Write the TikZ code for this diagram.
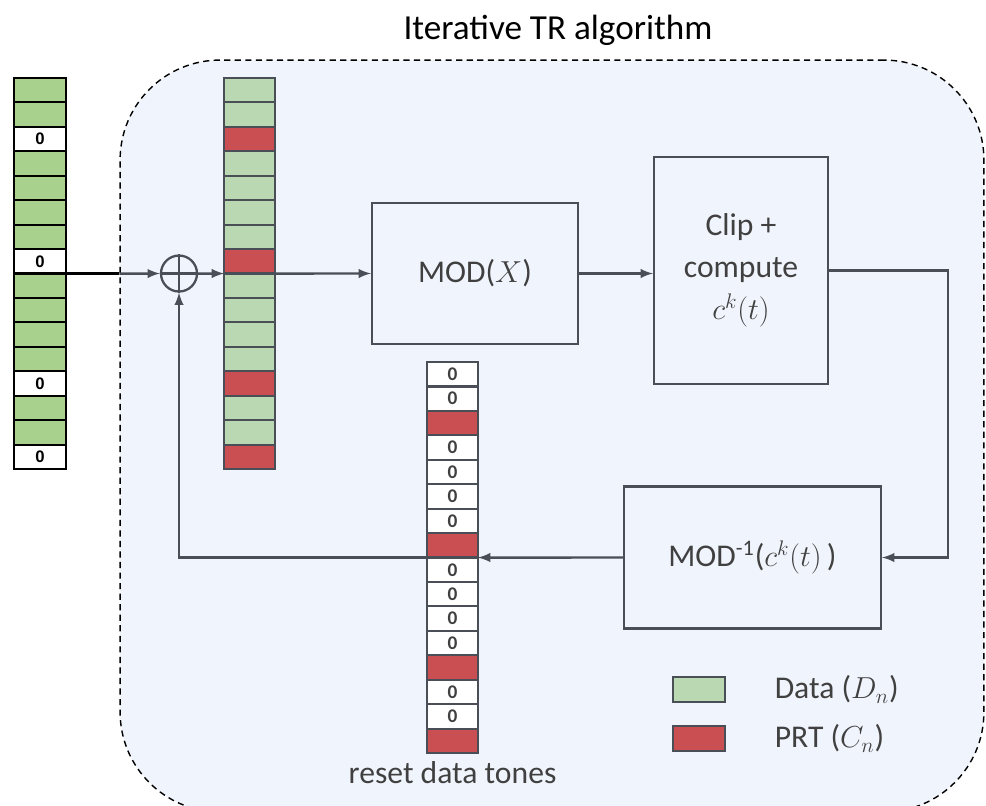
\documentclass[tikz,border=0pt]{standalone}
\usepackage{fontspec}
\setmainfont{Carlito}
\newfontfamily\zerofont{Liberation Sans}
\usepackage{tikz}
\usetikzlibrary{arrows, positioning, calc}
\usepackage{xcolor}

\definecolor{boxgray}{HTML}{4A4E57}
\definecolor{txtgray}{HTML}{404040}
\definecolor{datagreen}{HTML}{A9D18E}
\definecolor{palegreen}{HTML}{BAD8B2}
\definecolor{prtred}{HTML}{C94F52}
\definecolor{loopblue}{HTML}{F0F4FC}

\begin{document}
\begin{tikzpicture}[x=0.02cm,y=-0.02cm,>=latex,font=\fontsize{18}{24}\selectfont]
  \tikzstyle{cell}=[rectangle,minimum width=1.02cm,minimum height=0.489cm,
    inner sep=0pt,outer sep=0pt,line width=1.2pt]
  \tikzstyle{in-d}=[cell,draw=black,fill=datagreen,minimum width=1.04cm]
  \tikzstyle{in-z}=[in-d,fill=white,font=\zerofont\bfseries\fontsize{9.5}{10}\selectfont,
    execute at begin node=0]
  \tikzstyle{out-g}=[cell,draw=boxgray,fill=palegreen]
  \tikzstyle{out-r}=[cell,draw=boxgray,fill=prtred]
  \tikzstyle{rs-z}=[cell,draw=boxgray,fill=white,text=txtgray,
    font=\bfseries\fontsize{11}{12}\selectfont,execute at begin node=0]
  \tikzstyle{rs-r}=[out-r]
  \tikzstyle{block}=[rectangle,draw=boxgray,line width=1.3pt,text=txtgray,align=center]
  \tikzstyle{key}=[rectangle,draw=boxgray,line width=1.2pt,minimum width=1.04cm,minimum height=0.5cm]
  \tikzstyle{link}=[draw=boxgray,line width=1.4pt,->]

  \useasboundingbox (0,0) rectangle (986,805);

  % dashed region of the loop
  \node[draw=black,dashed,dash pattern=on 3.5pt off 2.5pt,line width=0.8pt,fill=loopblue,
    rounded corners=2cm,minimum width=17.28cm,minimum height=15.04cm] (loop) at (552,436) {};
  \node[text=black,font=\fontsize{20}{24}\selectfont] (title) at (558,30) {Iterative TR algorithm};

  % tone vectors
  \foreach \c [count=\i] in {d,d,z,d,d,d,d,z,d,d,d,d,z,d,d,z}
    \node[in-\c] (in\i) at (40,{78+(\i-0.5)*24.44}) {};
  \foreach \c [count=\i] in {g,g,r,g,g,g,g,r,g,g,g,g,r,g,g,r}
    \node[out-\c] (out\i) at (249.5,{78+(\i-0.5)*24.44}) {};
  \foreach \c [count=\i] in {z,z,r,z,z,z,z,r,z,z,z,z,r,z,z,r}
    \node[rs-\c] (rs\i) at (452.5,{362+(\i-0.5)*24.44}) {};

  % adder
  \node[circle,draw=boxgray,line width=1.3pt,minimum size=0.72cm,inner sep=0pt] (sum) at (179,273.52) {};
  \draw[boxgray,line width=1.3pt] (sum.north) -- (sum.south) (sum.west) -- (sum.east);

  % blocks
  \node[block,minimum width=4.12cm,minimum height=2.82cm] (mod) at (475,273.5) {MOD($X$)};
  \node[block,minimum width=3.48cm,minimum height=4.54cm] (clip) at (741,270.5) {Clip +\\compute\\$c^k(t)$};
  \node[block,minimum width=5.14cm,minimum height=2.84cm] (inv) at (752.5,557.5)
    {MOD\textsuperscript{-1}($c^k(t)$\,)};

  % legend
  \node[key,fill=palegreen] (keydata) at (699,689.5) {};
  \node[key,fill=prtred]    (keyprt)  at (699,738.5) {};
  \node[text=txtgray,right=0.85cm of keydata] (datatext) {Data ($D_n$)};
  \node[text=txtgray,right=0.85cm of keyprt]  (prttext)  {PRT ($C_n$)};
  \node[text=txtgray,below=0.05cm of rs16] (resetlabel) {reset data tones};

  \draw[line width=1.4pt] (in8.south east) -- (in8.south east -| loop.west);
  \draw[link] (in8.south east -| loop.west) -- (sum.west);
  \draw[link] (sum.east) -- (out8.south west);
  \draw[link] (out8.south east) -- (mod.west);
  \draw[link] (mod.east) -- (mod.east -| clip.west);
  \draw[link] (clip.east) -| ($(inv.east)+(66,0)$) -- (inv.east);
  \draw[link] (inv.west) -- (rs8.south east);
  \draw[link] (rs8.south west) -| (sum.south);
\end{tikzpicture}
\end{document}
